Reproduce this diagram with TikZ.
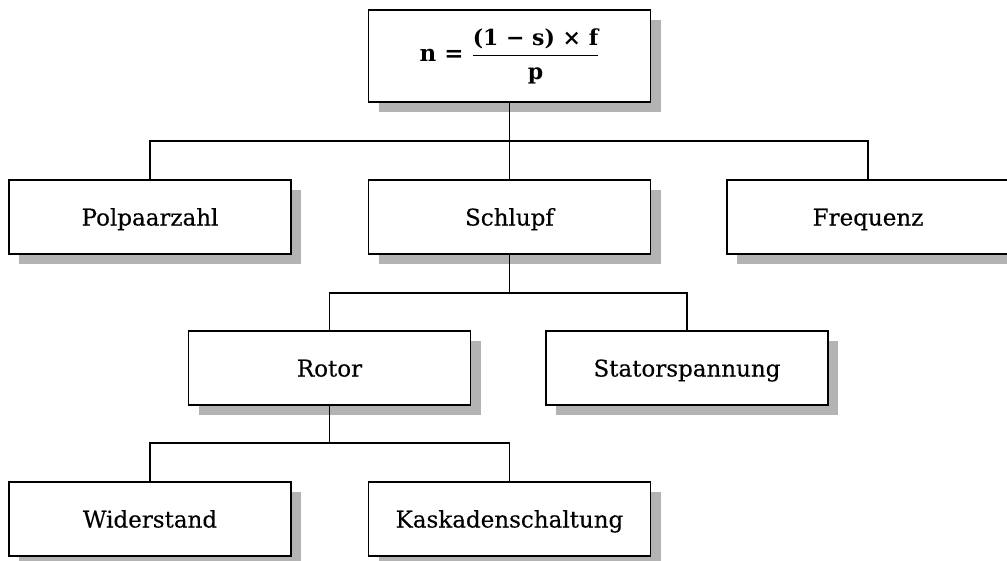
\documentclass[tikz,border=0pt]{standalone}
\usepackage{fontspec}
\usepackage{amsmath}
\setmainfont{DejaVu Serif}
\newfontfamily\boxfont{DejaVu Serif}[FakeBold=0.3]
\usetikzlibrary{shadows}
\definecolor{shadowgray}{RGB}{179,179,179}
\tikzset{
  box/.style={draw=black, line width=1.5pt, fill=white, minimum width=282pt,
    minimum height=74pt, inner sep=0pt, font=\boxfont\fontsize{23}{27}\selectfont,
    text height=17pt, text depth=0pt,
    drop shadow={shadow xshift=10pt, shadow yshift=-10pt, fill=shadowgray, opacity=1}},
  formulabox/.style={box, minimum height=92pt, text height=, text depth=,
    font=\bfseries\fontsize{23}{27}\selectfont},
  link/.style={draw=black, line width=1.3pt}
}
\begin{document}
\begin{tikzpicture}[x=1pt,y=-1pt]
\useasboundingbox (0,0) rectangle (1007,560);
\node[formulabox] (top) at (509.5,56) {n = $\genfrac{}{}{1.5pt}{0}{\text{\bfseries\fontsize{22}{26}\selectfont(1 − s) × f}}{\text{\bfseries\fontsize{22}{26}\selectfont p}}$};
\node[box] (pol) at (150,217) {Polpaarzahl};
\node[box] (sch) at (509.5,217) {Schlupf};
\node[box] (freq) at (868,217) {Frequenz};
\node[box] (rot) at (329.5,368) {Rotor};
\node[box] (stat) at (687,368) {Statorspannung};
\node[box] (wid) at (150,519) {Widerstand};
\node[box] (kas) at (509.5,519) {Kaskadenschaltung};
\coordinate (j1) at (509.5,141);
\coordinate (j2) at (509.5,293);
\coordinate (j3) at (329.5,443);
\draw[link] (top.south) -- (j1);
\draw[link] (j1) -- (sch.north);
\draw[link] (pol.north) -- (pol.north |- j1) -- (freq.north |- j1) -- (freq.north);
\draw[link] (sch.south) -- (j2);
\draw[link] (rot.north) -- (rot.north |- j2) -- (stat.north |- j2) -- (stat.north);
\draw[link] (rot.south) -- (j3);
\draw[link] (wid.north) -- (wid.north |- j3) -- (kas.north |- j3) -- (kas.north);
\end{tikzpicture}
\end{document}
